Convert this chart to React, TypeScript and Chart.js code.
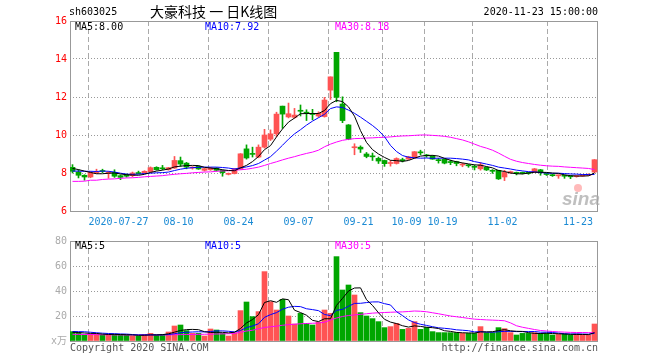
import React, { useEffect, useRef } from 'react';
import { Chart, registerables } from 'chart.js';

Chart.register(...registerables);

// ---------- data ----------
const stockCode = 'sh603025';
const chartTitle = '大豪科技 一 日K线图';
const timeStamp = '2020-11-23 15:00:00';

const tickIdx = [8, 18, 28, 38, 48, 56, 62, 72, 87];
const tickLabels = ['2020-07-27', '08-10', '08-24', '09-07', '09-21', '10-09', '10-19', '11-02', '11-23'];

const open = [8.30,8.05,7.88,7.79,8.00,8.12,7.98,8.03,7.86,7.91,
  7.86,8.02,8.00,8.07,8.30,8.26,8.17,8.26,8.65,8.52,
  8.26,8.35,8.14,8.17,8.26,8.14,7.93,7.97,8.21,9.27,
  9.02,8.84,9.36,9.78,10.06,11.52,10.95,10.93,11.30,11.20,
  11.12,11.00,10.97,12.36,14.35,11.63,10.53,9.33,9.36,9.00,
  8.88,8.77,8.66,8.50,8.50,8.68,8.73,8.79,9.10,8.93,
  8.89,8.68,8.72,8.57,8.60,8.42,8.40,8.33,8.22,8.30,
  8.12,8.14,7.79,8.02,8.00,8.00,8.00,8.05,8.17,7.94,
  7.88,7.85,7.85,7.82,7.81,7.84,7.88,8.05];
const high = [8.44,8.17,7.91,8.07,8.20,8.20,8.08,8.17,7.90,7.95,
  8.05,8.10,8.12,8.32,8.33,8.40,8.30,8.87,8.84,8.56,
  8.33,8.38,8.25,8.30,8.28,8.16,8.00,8.24,9.02,9.48,
  9.36,9.48,10.30,10.27,11.20,11.52,11.68,11.40,11.58,11.33,
  11.35,11.22,11.98,13.06,14.35,12.01,10.55,9.54,9.43,9.08,
  9.05,8.84,8.68,8.66,8.80,8.78,8.88,9.13,9.20,8.98,
  8.92,8.77,8.74,8.68,8.62,8.52,8.45,8.42,8.55,8.32,
  8.18,8.15,8.14,8.10,8.05,8.05,8.04,8.24,8.19,8.00,
  7.93,7.90,7.90,7.85,7.87,7.90,7.96,8.71];
const low = [8.00,7.74,7.62,7.75,7.97,8.02,7.72,7.77,7.65,7.78,
  7.80,7.95,7.98,8.05,8.15,8.17,8.15,8.24,8.35,8.22,
  8.20,8.19,8.10,8.14,8.10,7.83,7.90,7.95,8.20,8.73,
  8.84,8.80,9.31,9.71,9.92,10.35,10.90,10.88,11.00,10.76,
  10.80,10.94,10.94,11.87,11.75,10.65,9.75,8.96,9.08,8.80,
  8.66,8.50,8.35,8.36,8.47,8.58,8.70,8.78,8.96,8.83,
  8.72,8.52,8.48,8.44,8.38,8.33,8.30,8.16,8.15,8.13,
  7.98,7.66,7.60,7.98,7.90,7.95,7.93,8.03,7.88,7.87,
  7.82,7.72,7.72,7.70,7.78,7.82,7.86,8.02];
const close = [8.09,7.88,7.79,8.03,8.03,8.08,8.03,7.83,7.77,7.83,
  8.00,7.97,8.09,8.28,8.17,8.22,8.28,8.66,8.47,8.31,
  8.30,8.21,8.23,8.26,8.14,8.02,7.98,8.22,9.01,8.79,
  8.98,9.36,10.00,10.06,11.10,11.10,11.12,11.05,11.25,11.15,
  11.08,11.14,11.84,13.06,11.98,10.76,9.78,9.38,9.26,8.87,
  8.85,8.63,8.49,8.53,8.76,8.65,8.85,9.12,9.06,8.90,
  8.73,8.65,8.52,8.55,8.50,8.44,8.38,8.30,8.43,8.16,
  8.09,7.69,8.03,8.03,7.98,7.98,7.98,8.22,8.02,7.92,
  7.86,7.87,7.83,7.80,7.83,7.87,7.92,8.70];

const ma5 = [8.24,8.18,8.10,8.03,7.96,7.96,7.99,8.00,7.95,7.91,
  7.89,7.88,7.93,8.03,8.10,8.15,8.21,8.32,8.36,8.39,
  8.40,8.39,8.30,8.26,8.23,8.17,8.13,8.12,8.27,8.40,
  8.60,8.87,9.23,9.44,9.90,10.32,10.68,10.89,11.12,11.13,
  11.13,11.13,11.29,11.65,11.82,11.76,11.48,10.99,10.23,9.61,
  9.23,9.00,8.82,8.67,8.65,8.61,8.66,8.78,8.89,8.92,
  8.93,8.89,8.77,8.67,8.59,8.53,8.48,8.43,8.41,8.34,
  8.27,8.13,8.08,8.00,7.96,7.95,8.00,8.04,8.04,8.03,
  8.00,7.98,7.90,7.86,7.84,7.84,7.85,8.00];
const ma10 = [8.10,8.10,8.09,8.09,8.08,8.10,8.09,8.05,7.99,7.94,
  7.93,7.94,7.97,7.99,8.01,8.02,8.05,8.13,8.20,8.25,
  8.28,8.30,8.31,8.31,8.31,8.29,8.26,8.21,8.27,8.32,
  8.39,8.50,8.68,8.86,9.15,9.46,9.78,10.06,10.28,10.52,
  10.73,10.91,11.09,11.39,11.48,11.45,11.31,11.14,10.94,10.72,
  10.50,10.24,9.91,9.45,9.13,8.92,8.83,8.80,8.78,8.79,
  8.77,8.78,8.78,8.78,8.76,8.73,8.69,8.60,8.54,8.47,
  8.40,8.31,8.26,8.21,8.15,8.11,8.07,8.06,8.02,8.00,
  7.98,7.99,7.97,7.95,7.94,7.92,7.92,7.92];
const ma30 = [7.56,7.56,7.57,7.62,7.62,7.66,7.68,7.69,7.72,7.74,
  7.75,7.77,7.80,7.82,7.84,7.86,7.90,7.93,7.96,7.98,
  8.01,8.03,8.05,8.06,8.09,8.11,8.12,8.15,8.17,8.20,
  8.25,8.31,8.40,8.50,8.59,8.69,8.78,8.86,8.95,9.03,
  9.10,9.20,9.38,9.52,9.63,9.72,9.77,9.81,9.82,9.84,
  9.85,9.87,9.88,9.90,9.93,9.95,9.96,9.98,10.00,10.00,
  9.98,9.96,9.93,9.88,9.81,9.74,9.64,9.52,9.40,9.31,
  9.20,9.05,8.88,8.72,8.62,8.55,8.50,8.45,8.41,8.38,
  8.36,8.35,8.32,8.30,8.28,8.26,8.24,8.18];

const volume = [7.5,6.7,4.8,5.6,5.6,4.8,5.3,5.3,4.8,4.8,
  4.0,4.0,5.3,6.1,4.8,5.3,7.2,12.0,12.8,8.3,
  6.1,6.1,4.0,9.6,8.8,6.1,4.0,6.7,24.3,31.2,
  19.5,23.5,55.5,31.5,24.8,33.3,20.0,13.6,22.1,14.1,
  12.8,15.2,24.8,22.1,67.5,40.8,44.8,36.8,22.7,20.0,
  17.9,15.5,10.7,11.5,14.1,9.3,10.1,15.5,9.3,10.9,
  7.5,6.7,6.7,6.7,6.7,6.1,6.1,6.1,11.5,6.7,
  6.7,10.7,9.9,6.7,4.8,6.1,6.1,6.7,6.1,6.1,
  4.8,5.3,5.6,4.8,5.6,4.8,4.8,13.6];
const volMa5 = [7.0,6.8,6.4,6.1,6.04,5.5,5.22,5.32,5.16,5.0,
  4.84,4.58,4.58,4.84,4.84,5.1,5.74,7.08,8.42,9.12,
  9.28,9.06,7.46,6.82,6.92,6.92,6.5,7.04,9.98,14.46,
  17.14,21.04,30.8,32.24,30.96,33.72,33.02,24.64,22.76,20.62,
  16.52,15.56,17.8,17.8,28.48,34.08,40.0,42.4,42.52,33.02,
  28.44,22.58,17.36,15.12,13.94,12.22,11.14,12.1,11.66,11.02,
  10.66,9.98,8.22,7.7,6.86,6.58,6.46,6.34,7.3,7.3,
  7.42,8.34,9.1,8.14,7.76,7.64,6.72,6.08,5.96,6.22,
  5.96,5.8,5.58,5.32,5.22,5.22,5.12,6.72];
const volMa10 = [7.6,7.5,7.4,7.0,6.6,6.25,6.01,5.86,5.63,5.52,
  5.17,4.9,4.95,5.0,4.92,4.97,5.16,5.83,6.63,6.98,
  7.19,7.4,7.27,7.62,8.02,8.1,7.78,7.25,8.4,10.69,
  12.03,13.77,18.92,21.11,22.71,25.43,27.03,27.72,27.5,25.79,
  25.12,24.29,21.22,20.28,24.55,25.3,27.78,30.1,30.16,30.75,
  31.26,31.29,29.88,28.82,23.48,20.33,16.86,14.73,13.39,12.48,
  11.44,10.56,10.16,9.68,8.94,8.62,8.22,7.28,7.5,7.08,
  7.0,7.4,7.72,7.72,7.53,7.53,7.53,7.59,7.05,6.99,
  6.8,6.26,5.83,5.64,5.72,5.59,5.46,6.15];
const volMa30 = [5.3,5.3,5.2,5.2,5.1,5.0,5.0,4.9,4.9,4.8,
  4.8,4.8,4.8,4.8,4.8,4.9,4.9,5.0,5.1,5.2,
  5.3,5.3,5.4,5.5,5.6,5.7,5.8,6.0,7.0,8.0,
  8.6,9.8,10.8,11.4,11.9,12.6,13.1,13.4,13.8,14.0,
  14.2,14.4,15.0,16.8,18.4,19.6,20.4,20.9,21.3,21.8,
  22.3,22.6,22.8,23.0,23.2,23.3,23.6,24.0,23.8,23.4,
  22.6,21.8,20.9,20.0,19.4,18.8,18.1,17.5,17.2,16.9,
  16.7,16.5,16.2,14.5,12.2,11.0,10.1,9.2,8.4,8.0,
  7.6,7.3,7.1,6.9,6.8,6.8,6.7,6.7];

const priceMaLabels = ['MA5:8.00', 'MA10:7.92', 'MA30:8.18'];
const volMaLabels = ['MA5:5', 'MA10:5', 'MA30:5'];

// ---------- styles ----------
const UP = '#ff5353';
const DOWN = '#00a600';
const MA_COLORS = ['#000000', '#0000ff', '#ff00ff'];
const MONO = '10px "DejaVu Sans Mono", "Noto Sans CJK SC", monospace';
const X_MIN = -5 / 12;
const X_MAX = 88 - 5 / 12;
const GRID_SHIFT = 1 / 3;

const idx = close.map((_, i) => i);
const colors = idx.map((i) => (close[i] >= open[i] ? UP : DOWN));

const pts = (arr: number[]) => arr.map((v, i) => ({ x: i, y: v }));

const lineDs = (arr: number[], color: string) => ({
  type: 'line' as const,
  data: pts(arr),
  borderColor: color,
  borderWidth: 1,
  pointRadius: 0,
  tension: 0,
  order: 0,
});

const framePlugin = {
  id: 'frame',
  beforeDatasetsDraw(chart: any) {
    const { ctx, chartArea: a } = chart;
    ctx.save();
    ctx.strokeStyle = '#999';
    ctx.lineWidth = 1;
    ctx.setLineDash([]);
    ctx.strokeRect(a.left + 0.5, a.top + 0.5, a.right - a.left - 1, a.bottom - a.top);
    ctx.restore();
  },
};

const xScale = (showTicksHeight: number) => ({
  type: 'linear' as const,
  min: X_MIN,
  max: X_MAX,
  offset: false,
  afterBuildTicks: (s: any) => {
    s.ticks = tickIdx.map((t) => ({ value: t - GRID_SHIFT }));
  },
  ticks: { display: false, autoSkip: false },
  grid: { color: '#aaaaaa', drawTicks: false, lineWidth: 1 },
  border: { display: false, dash: [5, 3] },
  afterFit: (s: any) => {
    s.height = showTicksHeight;
  },
});

function priceConfig(): any {
  const textPlugin = {
    id: 'priceText',
    beforeDatasetsDraw(chart: any) {
      const { ctx } = chart;
      ctx.save();
      ctx.font = 'italic bold 19px "Liberation Sans", sans-serif';
      ctx.fillStyle = 'rgba(170,170,170,0.75)';
      ctx.textAlign = 'left';
      ctx.textBaseline = 'alphabetic';
      ctx.fillText('sina', 562, 205);
      ctx.fillStyle = 'rgba(255,140,140,0.6)';
      ctx.beginPath();
      ctx.arc(578, 188, 4, 0, Math.PI * 2);
      ctx.fill();
      ctx.restore();
    },
    afterDraw(chart: any) {
      const { ctx, chartArea, scales } = chart;
      ctx.save();
      ctx.textBaseline = 'middle';
      ctx.textAlign = 'left';
      ctx.fillStyle = '#000';
      ctx.font = MONO;
      ctx.fillText(stockCode, 69, 12);
      ctx.font = '14px "Noto Sans CJK SC", sans-serif';
      ctx.fillText(chartTitle, 150, 12);
      ctx.font = MONO;
      ctx.textAlign = 'right';
      ctx.fillText(timeStamp, 598, 12);
      ctx.textAlign = 'left';
      const mx = [75, 205, 335];
      priceMaLabels.forEach((t, k) => {
        ctx.fillStyle = MA_COLORS[k];
        ctx.fillText(t, mx[k], chartArea.top + 6.5);
      });
      ctx.fillStyle = '#1a8ad4';
      tickIdx.forEach((t, k) => {
        const x = scales.x.getPixelForValue(t - GRID_SHIFT);
        const w = ctx.measureText(tickLabels[k]).width;
        if (x + w / 2 > chartArea.right) {
          ctx.textAlign = 'right';
          ctx.fillText(tickLabels[k], x + 0.5, 222);
        } else {
          ctx.textAlign = 'center';
          ctx.fillText(tickLabels[k], x, 222);
        }
      });
      ctx.restore();
    },
  };

  return {
    type: 'bar',
    data: {
      datasets: [
        lineDs(ma5, MA_COLORS[0]),
        lineDs(ma10, MA_COLORS[1]),
        lineDs(ma30, MA_COLORS[2]),
        {
          type: 'bar',
          data: idx.map((i) => ({ x: i, y: [open[i], close[i]] })),
          backgroundColor: colors,
          barThickness: 5,
          minBarLength: 1,
          grouped: false,
          borderWidth: 0,
          order: 1,
        },
        {
          type: 'bar',
          data: idx.map((i) => ({ x: i, y: [low[i], high[i]] })),
          backgroundColor: colors,
          barThickness: 1,
          grouped: false,
          borderWidth: 0,
          order: 2,
        },
      ],
    },
    options: {
      animation: false,
      responsive: false,
      devicePixelRatio: 1,
      layout: { padding: { left: 0, right: 62, top: 21, bottom: 0 } },
      plugins: { legend: { display: false }, tooltip: { enabled: false } },
      scales: {
        x: xScale(19),
        y: {
          min: 6,
          max: 16,
          ticks: { stepSize: 2, color: '#ff0000', font: { family: '"DejaVu Sans Mono", monospace', size: 10 }, padding: 3 },
          grid: {
            drawTicks: false,
            color: (c: any) => (c.tick && (c.tick.value === 6 || c.tick.value === 16) ? 'rgba(0,0,0,0)' : '#999999'),
          },
          border: { display: false, dash: [1, 2] },
          afterFit: (s: any) => {
            s.width = 70;
          },
        },
      },
    },
    plugins: [framePlugin, textPlugin],
  };
}

function volConfig(): any {
  const textPlugin = {
    id: 'volText',
    afterDraw(chart: any) {
      const { ctx, chartArea } = chart;
      ctx.save();
      ctx.textBaseline = 'middle';
      ctx.textAlign = 'left';
      ctx.font = MONO;
      const mx = [75, 205, 335];
      volMaLabels.forEach((t, k) => {
        ctx.fillStyle = MA_COLORS[k];
        ctx.fillText(t, mx[k], chartArea.top + 5.5);
      });
      ctx.fillStyle = '#555';
      ctx.fillText('Copyright 2020 SINA.COM', 70, 118);
      ctx.textAlign = 'right';
      ctx.fillText('http://finance.sina.com.cn', 598, 118);
      ctx.restore();
    },
  };

  return {
    type: 'bar',
    data: {
      datasets: [
        lineDs(volMa5, MA_COLORS[0]),
        lineDs(volMa10, MA_COLORS[1]),
        lineDs(volMa30, MA_COLORS[2]),
        {
          type: 'bar',
          data: idx.map((i) => ({ x: i, y: volume[i] })),
          backgroundColor: colors,
          barThickness: 5,
          grouped: false,
          borderWidth: 0,
          order: 1,
        },
      ],
    },
    options: {
      animation: false,
      responsive: false,
      devicePixelRatio: 1,
      layout: { padding: { left: 0, right: 62, top: 11, bottom: 0 } },
      plugins: { legend: { display: false }, tooltip: { enabled: false } },
      scales: {
        x: xScale(19),
        y: {
          min: 0,
          max: 80,
          ticks: {
            stepSize: 20,
            color: '#aaaaaa',
            font: { family: '"DejaVu Sans Mono", "Noto Sans CJK SC", monospace', size: 10 },
            padding: 3,
            callback: (v: any) => (v === 0 ? 'x万' : String(v)),
          },
          grid: {
            drawTicks: false,
            color: (c: any) => (c.tick && (c.tick.value === 0 || c.tick.value === 80) ? 'rgba(0,0,0,0)' : '#999999'),
          },
          border: { display: false, dash: [1, 2] },
          afterFit: (s: any) => {
            s.width = 70;
          },
        },
      },
    },
    plugins: [framePlugin, textPlugin],
  };
}

export default function App() {
  const priceRef = useRef<HTMLCanvasElement>(null);
  const volRef = useRef<HTMLCanvasElement>(null);

  useEffect(() => {
    const c1 = new Chart(priceRef.current as HTMLCanvasElement, priceConfig());
    const c2 = new Chart(volRef.current as HTMLCanvasElement, volConfig());
    return () => {
      c1.destroy();
      c2.destroy();
    };
  }, []);

  return (
    <div style={{ position: 'absolute', left: 0, top: 0, width: 660, height: 360, background: '#fff' }}>
      <canvas
        ref={priceRef}
        width={660}
        height={230}
        style={{ position: 'absolute', left: 0, top: 0, width: 660, height: 230 }}
      />
      <canvas
        ref={volRef}
        width={660}
        height={130}
        style={{ position: 'absolute', left: 0, top: 230, width: 660, height: 130 }}
      />
    </div>
  );
}
